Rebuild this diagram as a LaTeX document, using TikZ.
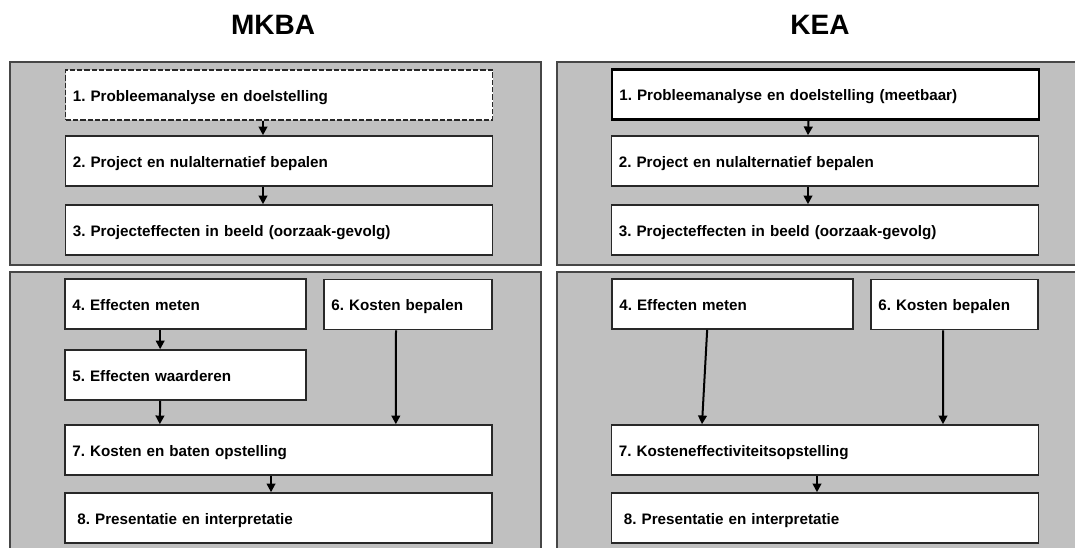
\documentclass[tikz,border=0pt]{standalone}
\usepackage{fontspec}
\setmainfont{Liberation Sans}
\usetikzlibrary{arrows.meta}
\definecolor{panelgrey}{RGB}{192,192,192}
\definecolor{panelline}{RGB}{70,70,70}
\definecolor{boxline}{RGB}{40,40,40}
\frenchspacing

\begin{document}
\begin{tikzpicture}[x=0.75pt,y=-0.75pt,
    font=\fontsize{11.4pt}{13pt}\selectfont\bfseries,
    panel/.style={draw=panelline,fill=panelgrey,line width=1.1pt},
    stap/.style={draw=boxline,fill=white,line width=1.2pt,minimum height=37.5pt,
      inner xsep=5.5pt,align=left,text width=#1,text height=9.5pt,text depth=0pt},
    stap/.default=309.25pt,
    pijl/.style={-{Triangle[length=6.5pt,width=6.5pt]},line width=1.5pt}]
    \useasboundingbox (0,0) rectangle (1075,547);

    % MKBA
    \node[font=\fontsize{21pt}{24pt}\selectfont\bfseries] (mkba) at (273,25) {MKBA};
    \fill[panel] (10,62) rectangle (541,265);
    \fill[panel] (10,272) rectangle (541,555);
    \node[stap,dash pattern=on 4pt off 1.5pt] (l1) at (279,95)
      {1. Probleemanalyse en doelstelling};
    \node[stap] (l2) at (279,161) {2. Project en nulalternatief bepalen};
    \node[stap] (l3) at (279,230) {3. Projecteffecten in beeld (oorzaak-gevolg)};
    \node[stap=169.75pt] (l4) at (185.5,304) {4. Effecten meten};
    \node[stap=115pt] (l6) at (408,304.5) {6. Kosten bepalen};
    \node[stap=169.75pt] (l5) at (185.5,375) {5. Effecten waarderen};
    \node[stap] (l7) at (278.5,450) {7. Kosten en baten opstelling};
    \node[stap] (l8) at (278.5,518) {\ 8. Presentatie en interpretatie};
    \draw[pijl] ([xshift=-12pt]l1.south) -- ([xshift=-12pt]l2.north);
    \draw[pijl] ([xshift=-12pt]l2.south) -- ([xshift=-12pt]l3.north);
    \draw[pijl] ([xshift=-19pt]l4.south) -- ([xshift=-19pt]l5.north);
    \draw[pijl] ([xshift=-19pt]l5.south) -- ([xshift=-89pt]l7.north);
    \draw[pijl] ([xshift=-9pt]l6.south) -- ([xshift=88pt]l7.north);
    \draw[pijl] ([xshift=-5.6pt]l7.south) -- ([xshift=-5.6pt]l8.north);

    % KEA
    \node[font=\fontsize{21pt}{24pt}\selectfont\bfseries] (kea) at (820,25) {KEA};
    \fill[panel] (557,62) rectangle (1085,265);
    \fill[panel] (557,272) rectangle (1085,555);
    \node[stap,draw=black,line width=2pt] (r1) at (825.5,94.5)
      {1. Probleemanalyse en doelstelling (meetbaar)};
    \node[stap] (r2) at (825,161) {2. Project en nulalternatief bepalen};
    \node[stap] (r3) at (825,230) {3. Projecteffecten in beeld (oorzaak-gevolg)};
    \node[stap=169.75pt] (r4) at (732.5,304) {4. Effecten meten};
    \node[stap=114.25pt] (r6) at (954.5,304.5) {6. Kosten bepalen};
    \node[stap] (r7) at (825,450) {7. Kosteneffectiviteitsopstelling};
    \node[stap] (r8) at (825,518) {\ 8. Presentatie en interpretatie};
    \draw[pijl] ([xshift=-12.75pt]r1.south) -- ([xshift=-12.75pt]r2.north);
    \draw[pijl] ([xshift=-12.75pt]r2.south) -- ([xshift=-12.75pt]r3.north);
    \draw[pijl] ([xshift=-19pt]r4.south) -- ([xshift=-92.25pt]r7.north);
    \draw[pijl] ([xshift=-8.6pt]r6.south) -- ([xshift=88.5pt]r7.north);
    \draw[pijl] ([xshift=-6pt]r7.south) -- ([xshift=-6pt]r8.north);
\end{tikzpicture}
\end{document}
